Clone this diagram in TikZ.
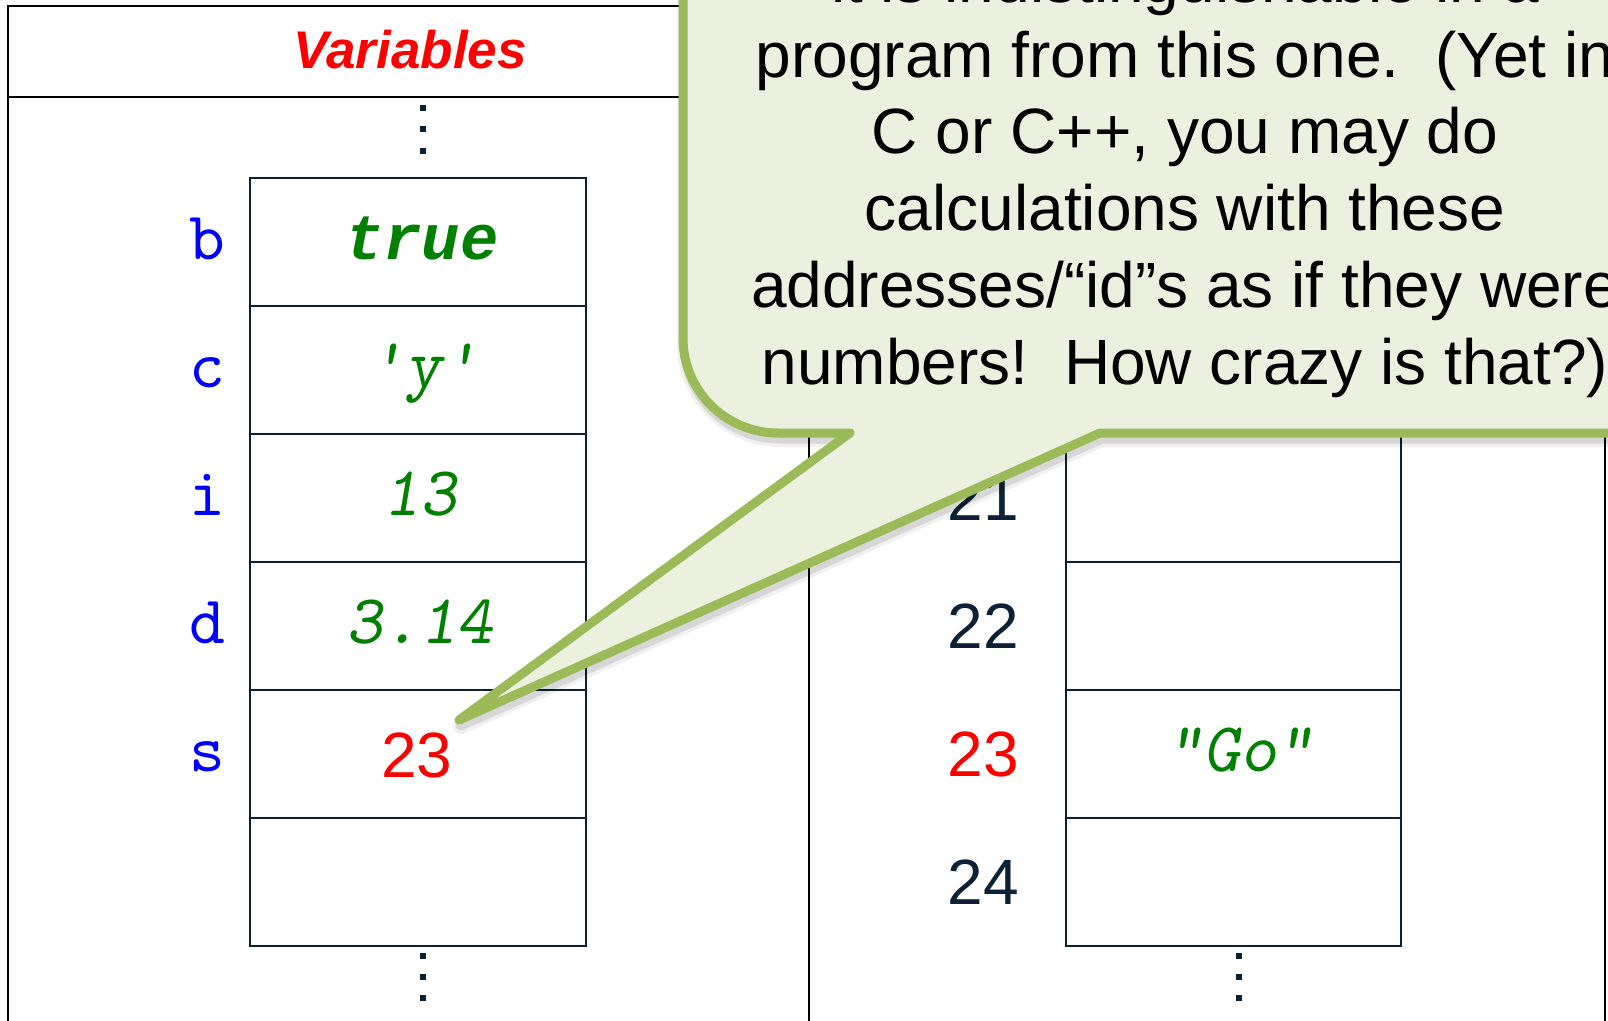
\documentclass[tikz,border=0pt]{standalone}
\usepackage{fontspec}
\setmainfont{Liberation Sans}
\setmonofont{lmmono10-regular.otf}[ItalicFont=lmmonoslant10-regular.otf]
\newfontfamily\libmono{Liberation Mono}
\definecolor{navy}{HTML}{0D2136}
\definecolor{varblue}{HTML}{0000FF}
\definecolor{valgreen}{HTML}{008000}
\definecolor{calloutfill}{HTML}{EBF1DE}
\definecolor{calloutline}{HTML}{9BBB59}
\newcommand\calloutshape[1]{\path[#1] (459,720) -- (850,433) -- (778,433)
  .. controls (725.5,433) and (683,390.5) .. (683,338) -- (683,-80)
  -- (1720,-80) -- (1720,433) -- (1100,433) -- cycle;}
\begin{document}
\begin{tikzpicture}[x=1bp,y=-1bp,
  frame/.style={draw=black,line width=2.5bp},
  cellbox/.style={draw=navy,line width=2bp,minimum width=336bp,minimum height=128bp,inner sep=0pt,anchor=north west},
  rcellbox/.style={cellbox,minimum width=335bp},
  varlab/.style={font=\ttfamily\fontsize{68bp}{68bp}\selectfont,text=varblue,anchor=base,inner sep=0pt},
  val/.style={font=\ttfamily\itshape\fontsize{70bp}{70bp}\selectfont,text=valgreen,anchor=base,inner sep=0pt},
  addr/.style={font=\fontsize{64bp}{64bp}\selectfont,text=navy,anchor=base,inner sep=0pt},
  ctext/.style={font=\fontsize{64bp}{64bp}\selectfont,text=black,anchor=base,inner sep=0pt},
  dotsq/.style={fill=navy}]
\useasboundingbox (0,0) rectangle (1608,1020);
\clip (0,0) rectangle (1608,1020);
\fill[white] (0,0) rectangle (1608,1020);
% frames
\draw[frame] (8,1040) -- (8,6) -- (1605,6) -- (1605,1040);
\draw[frame] (8,97) -- (1605,97);
\draw[frame] (809,6) -- (809,1040);
\node[font=\bfseries\itshape\fontsize{53bp}{53bp}\selectfont,text=red,anchor=base,inner sep=0pt] (vars) at (410,68) {Variables};
% left column cells
\node[cellbox] (l1) at (249,177) {};
\node[cellbox] (l2) at (249,305) {};
\node[cellbox] (l3) at (249,433) {};
\node[cellbox] (l4) at (249,561) {};
\node[cellbox] (l5) at (249,689) {};
\node[cellbox] (l6) at (249,817) {};
% right column cells
\node[rcellbox] (r1) at (1065,177) {};
\node[rcellbox] (r2) at (1065,305) {};
\node[rcellbox] (r3) at (1065,433) {};
\node[rcellbox] (r4) at (1065,561) {};
\node[rcellbox] (r5) at (1065,689) {};
\node[rcellbox] (r6) at (1065,817) {};
% dots
\foreach \yy in {108,129,151} {\fill[dotsq] (420,\yy-3) rectangle (426,\yy+3);}
\foreach \yy in {956,977,998} {\fill[dotsq] (420,\yy-3) rectangle (426,\yy+3);}
\foreach \yy in {956,977,998} {\fill[dotsq] (1236,\yy-3) rectangle (1242,\yy+3);}
% variable labels
\node[varlab] (nb) at (207,259) {b};
\node[varlab] (nc) at (207,387) {c};
\node[varlab] (ni) at (207,515) {i};
\node[varlab] (nd) at (207,643) {d};
\node[varlab] (ns) at (207,771) {s};
% values
\node[val,font=\libmono\bfseries\itshape\fontsize{64bp}{64bp}\selectfont] (vb) at (422,259) {true};
\node[val] (vc) at (424,387) {'y'};
\node[val] (vi) at (420,515) {13};
\node[val] (vd) at (420,643) {3.14};
\node[addr,text=red] (vs) at (417,777) {23};
% addresses
\node[addr] (a21) at (983,520) {21};
\node[addr] (a22) at (983,648) {22};
\node[addr,text=red] (a23) at (983,776) {23};
\node[addr] (a24) at (983,904) {24};
\node[val] (go) at (1240,771) {"Go"};
% callout shadow
\calloutshape{draw=black,line width=16bp,line join=round,opacity=0.06,shift={(2,6)}}
\calloutshape{draw=black,line width=11bp,line join=round,opacity=0.10,shift={(2,5)}}
% callout
\calloutshape{fill=calloutfill,draw=calloutline,line width=9bp,line join=round}
\coordinate (tip) at (459,720);
\node[ctext] (t0) at (1185,2) {it is indistinguishable in a};
\node[ctext] (t1) at (1185,77) {program from this one.\ \ (Yet in};
\node[ctext] (t2) at (1185,153.5) {C or C++, you may do};
\node[ctext] (t3) at (1185,230) {calculations with these};
\node[ctext] (t4) at (1185,307) {addresses/“id”s as if they were};
\node[ctext] (t5) at (1185,384) {numbers!\ \ How crazy is that?)};
\end{tikzpicture}
\end{document}
